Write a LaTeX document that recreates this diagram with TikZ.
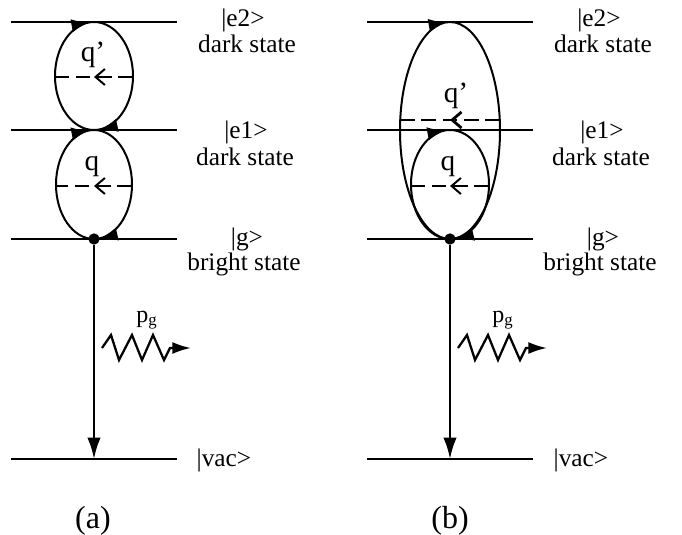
\documentclass[tikz,border=0pt]{standalone}
\usepackage{fontspec}
\setmainfont{Liberation Serif}
\usetikzlibrary{arrows.meta,decorations.markings}

\begin{document}
\begin{tikzpicture}[
  x=0.75pt, y=0.75pt,
  font=\fontsize{19}{22}\selectfont,
  level/.style={line width=1.9pt},
  loopline/.style={line width=1.5pt},
  cw/.style={postaction={decorate}, decoration={markings,
      mark=at position 0.482 with {\arrow{Latex[length=13pt,width=10pt]}},
      mark=at position 0.978 with {\arrow{Latex[length=13pt,width=10pt]}}}},
  cwtop/.style={postaction={decorate}, decoration={markings,
      mark=at position 0.492 with {\arrow{Latex[length=13pt,width=10pt]}}}},
  exch/.style={line width=1.5pt, dash pattern=on 11pt off 5pt,
      postaction={decorate}, decoration={markings,
      mark=at position 0.5 with {\arrow{Straight Barb[length=7pt,width=12pt]}}}},
  decay/.style={-{Latex[length=16pt,width=10pt]}, line width=1.8pt},
  photon/.style={-{Latex[length=14pt,width=9pt]}, line width=1.7pt},
  dot/.style={circle, fill, inner sep=0pt, minimum size=8.5pt},
  lbl/.style={anchor=base},
  qlbl/.style={anchor=base, font=\fontsize{22}{24}\selectfont},
  pglbl/.style={font=\fontsize{18}{20}\selectfont},
  panelcap/.style={anchor=base, font=\fontsize{24}{26}\selectfont}
]
\useasboundingbox (0,0) rectangle (682,-535);

% (a) two separate loops
\draw[level] (11,-22) -- (177,-22);
\draw[level] (11,-130) -- (177,-130);
\draw[level] (11,-239) -- (177,-239);
\draw[level] (11,-459) -- (177,-459);

\draw[loopline, cw] (94,-130) arc[start angle=270, end angle=-90, x radius=39, y radius=54];
\draw[loopline, cw] (94,-239) arc[start angle=270, end angle=-90, x radius=38, y radius=54.5];

\coordinate (qpaR) at (133,-77);
\coordinate (qpaL) at (55,-77);
\draw[exch] (qpaR) -- (qpaL);
\coordinate (qaR) at (132,-186);
\coordinate (qaL) at (56,-186);
\draw[exch] (qaR) -- (qaL);

\node[dot] (ga) at (94,-239) {};
\coordinate (vaca) at (94,-459);
\draw[decay] (ga) -- (vaca);

\draw[photon] (102,-348) -- (111,-335) -- (119,-360) -- (132,-335) -- (142,-360)
  -- (153,-335) -- (164,-360) -- (170,-348) -- (191,-348);

\node[qlbl] (qpa) at (93,-62) {q'};
\node[qlbl] (qa) at (92,-170) {q};
\node[pglbl] (pga) at (147,-320) {p\textsubscript{g}};

\node[lbl] (e2a) at (243,-27) {|e2>};
\node[lbl] (e2da) at (247,-53) {dark state};
\node[lbl] (e1a) at (246,-138) {|e1>};
\node[lbl] (e1da) at (245,-166) {dark state};
\node[lbl] (gla) at (247,-245) {|g>};
\node[lbl] (glda) at (244,-270) {bright state};
\node[lbl] (vacla) at (224,-466) {|vac>};
\node[panelcap] (capa) at (93,-528) {(a)};

% (b) nested loops
\draw[level] (367,-22) -- (533,-22);
\draw[level] (367,-130) -- (533,-130);
\draw[level] (367,-239) -- (533,-239);
\draw[level] (367,-459) -- (533,-459);

\draw[loopline, cwtop] (450,-239) arc[start angle=270, end angle=-90, x radius=50, y radius=108.5];
\draw[loopline, cw] (450,-239) arc[start angle=270, end angle=-90, x radius=39, y radius=54.5];

\coordinate (qpbR) at (500,-120);
\coordinate (qpbL) at (400,-120);
\draw[exch, line width=2.1pt] (qpbR) -- (qpbL);
\coordinate (qbR) at (489,-186);
\coordinate (qbL) at (411,-186);
\draw[exch] (qbR) -- (qbL);

\node[dot] (gb) at (450,-239) {};
\coordinate (vacb) at (450,-459);
\draw[decay] (gb) -- (vacb);

\draw[photon] (458,-348) -- (467,-335) -- (475,-360) -- (488,-335) -- (498,-360)
  -- (509,-335) -- (520,-360) -- (526,-348) -- (547,-348);

\node[qlbl] (qpb) at (456,-103) {q'};
\node[qlbl] (qb) at (448,-170) {q};
\node[pglbl] (pgb) at (503,-320) {p\textsubscript{g}};

\node[lbl] (e2b) at (599,-27) {|e2>};
\node[lbl] (e2db) at (603,-53) {dark state};
\node[lbl] (e1b) at (602,-138) {|e1>};
\node[lbl] (e1db) at (601,-166) {dark state};
\node[lbl] (glb) at (603,-245) {|g>};
\node[lbl] (gldb) at (600,-270) {bright state};
\node[lbl] (vaclb) at (581,-466) {|vac>};
\node[panelcap] (capb) at (450,-528) {(b)};
\end{tikzpicture}
\end{document}
